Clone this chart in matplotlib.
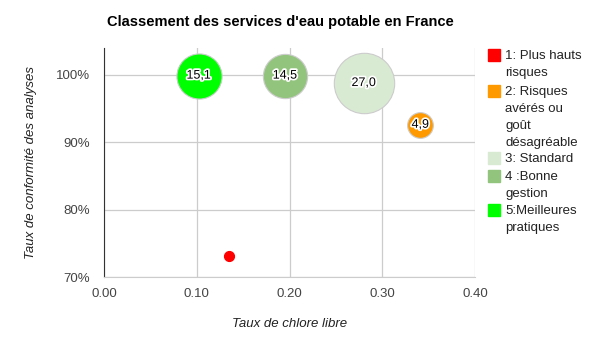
import matplotlib.pyplot as plt
import matplotlib.patheffects as pe
from matplotlib.patches import Rectangle

# Data
categories = ["1: Plus hauts\nrisques", "2: Risques\navérés ou\ngoût\ndésagréable",
              "3: Standard", "4 :Bonne\ngestion", "5:Meilleures\npratiques"]
chlore = [0.135, 0.341, 0.280, 0.195, 0.102]
conformite = [0.731, 0.926, 0.988, 0.999, 0.999]
taille = [0.75, 4.9, 27.0, 14.5, 15.1]
labels = ["", "4,9", "27,0", "14,5", "15,1"]
colors = ["#ff0000", "#ff9900", "#d9ead3", "#93c47d", "#00ff00"]

plt.rcParams["font.family"] = ["Liberation Sans", "DejaVu Sans"]

W, H = 589, 341
fig = plt.figure(figsize=(W / 100, H / 100), dpi=100)
ax = fig.add_axes([104 / W, 1 - 277 / H, (475 - 104) / W, (277 - 48) / H])

# bubbles, largest first so small ones stay on top
order = sorted(range(len(taille)), key=lambda i: -taille[i])
for i in order:
    ax.scatter(chlore[i], conformite[i], s=70 * taille[i], color=colors[i],
               edgecolors="#cccccc" if taille[i] > 1 else colors[i],
               linewidths=0.8, zorder=3)
    if labels[i]:
        ax.text(chlore[i], conformite[i], labels[i], ha="center", va="center",
                fontsize=9, color="black", zorder=4,
                path_effects=[pe.withStroke(linewidth=2.5, foreground="white")])

ax.set_xlim(0, 0.40)
ax.set_ylim(0.70, 1.04)
ax.set_xticks([0, 0.1, 0.2, 0.3, 0.4])
ax.set_xticklabels(["0.00", "0.10", "0.20", "0.30", "0.40"])
ax.set_yticks([0.7, 0.8, 0.9, 1.0])
ax.set_yticklabels(["70%", "80%", "90%", "100%"])
ax.tick_params(length=0, labelsize=9.5, labelcolor="#444444")
ax.tick_params(axis="x", pad=8)
ax.tick_params(axis="y", pad=10)
ax.grid(True, color="#cccccc", linewidth=0.9, zorder=0)
ax.set_axisbelow(True)
for s in ["top", "right"]:
    ax.spines[s].set_visible(False)
ax.spines["bottom"].set_color("#cccccc")
ax.spines["left"].set_color("#333333")

ax.set_xlabel("Taux de chlore libre", fontsize=9.5, style="italic",
              color="#222222", labelpad=13)
ax.set_ylabel("Taux de conformité des analyses", fontsize=9.5, style="italic",
              color="#222222", labelpad=14)

fig.text(280 / W, 1 - 22 / H, "Classement des services d'eau potable en France",
         ha="center", va="center", fontsize=10.5, fontweight="bold")

# legend (vertical centre of each entry's first line, in pixels)
leg_c = [55, 91, 158, 176, 210]
for cat, col, c in zip(categories, colors, leg_c):
    fig.patches.append(Rectangle((488 / W, 1 - (c + 6) / H), 12 / W, 12 / H,
                                 transform=fig.transFigure, color=col))
    fig.text(505 / W, 1 - (c - 5) / H, cat, ha="left", va="top", fontsize=9.5,
             color="#222222", linespacing=1.55)

fig.savefig("out.png", dpi=100)
